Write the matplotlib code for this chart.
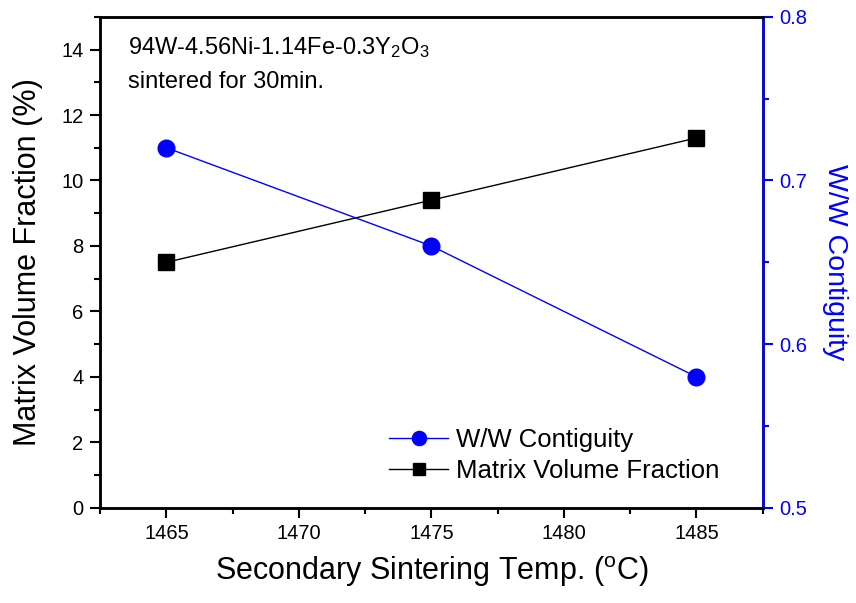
import matplotlib.pyplot as plt
from matplotlib.ticker import MultipleLocator

plt.rcParams['font.family'] = ['Liberation Sans', 'DejaVu Sans']

# data
temps = [1465, 1475, 1485]
matrix_frac = [7.5, 9.4, 11.3]
contiguity = [0.72, 0.66, 0.58]

fig = plt.figure(figsize=(8.56, 6.03), dpi=100)
ax = fig.add_axes([0.117, 0.158, 0.774, 0.814])
ax2 = ax.twinx()

l2, = ax.plot(temps, matrix_frac, color='black', lw=1, marker='s', ms=11,
              label='Matrix Volume Fraction')
l1, = ax2.plot(temps, contiguity, color='blue', lw=1, marker='o', ms=12,
               label='W/W Contiguity')

ax.set_xlim(1462.5, 1487.5)
ax.set_ylim(0, 15)
ax2.set_ylim(0.5, 0.8)

ax.xaxis.set_major_locator(MultipleLocator(5))
ax.xaxis.set_minor_locator(MultipleLocator(2.5))
ax.yaxis.set_major_locator(MultipleLocator(2))
ax.yaxis.set_minor_locator(MultipleLocator(1))
ax2.yaxis.set_major_locator(MultipleLocator(0.1))
ax2.yaxis.set_minor_locator(MultipleLocator(0.05))

for s in ax.spines.values():
    s.set_linewidth(1.8)
for s in ax2.spines.values():
    s.set_linewidth(1.8)
ax2.spines['right'].set_color('blue')

ax.tick_params(axis='both', which='major', direction='out', length=7, width=1.5,
               labelsize=14.5, pad=5)
ax.tick_params(axis='both', which='minor', direction='out', length=4, width=1.5)
ax.tick_params(top=False, which='both')
ax2.tick_params(axis='y', which='major', direction='out', length=7, width=1.5,
                labelsize=14.5, colors='blue', pad=5)
ax2.tick_params(axis='y', which='minor', direction='out', length=4, width=1.5,
                colors='blue')

ax.set_xlabel('Secondary Sintering Temp. ($\\mathregular{^{o}}$C)', fontsize=22, labelpad=8)
ax.set_ylabel('Matrix Volume Fraction (%)', fontsize=22, labelpad=13)
ax2.set_ylabel('W/W Contiguity', fontsize=20.5, color='blue', rotation=270, labelpad=29)

ax.text(0.042, 0.937, '94W-4.56Ni-1.14Fe-0.3Y$\\mathregular{_2}$O$\\mathregular{_3}$',
        transform=ax.transAxes, fontsize=17, va='center')
ax.text(0.042, 0.868, 'sintered for 30min.', transform=ax.transAxes, fontsize=17,
        va='center')

ax.legend([l1, l2], ['W/W Contiguity', 'Matrix Volume Fraction'], frameon=False,
          fontsize=18.5, loc='center left', bbox_to_anchor=(0.401, 0.106),
          handlelength=2.3, labelspacing=0.25, handletextpad=0.3, markerscale=0.85)

fig.savefig('out.png', dpi=100)
